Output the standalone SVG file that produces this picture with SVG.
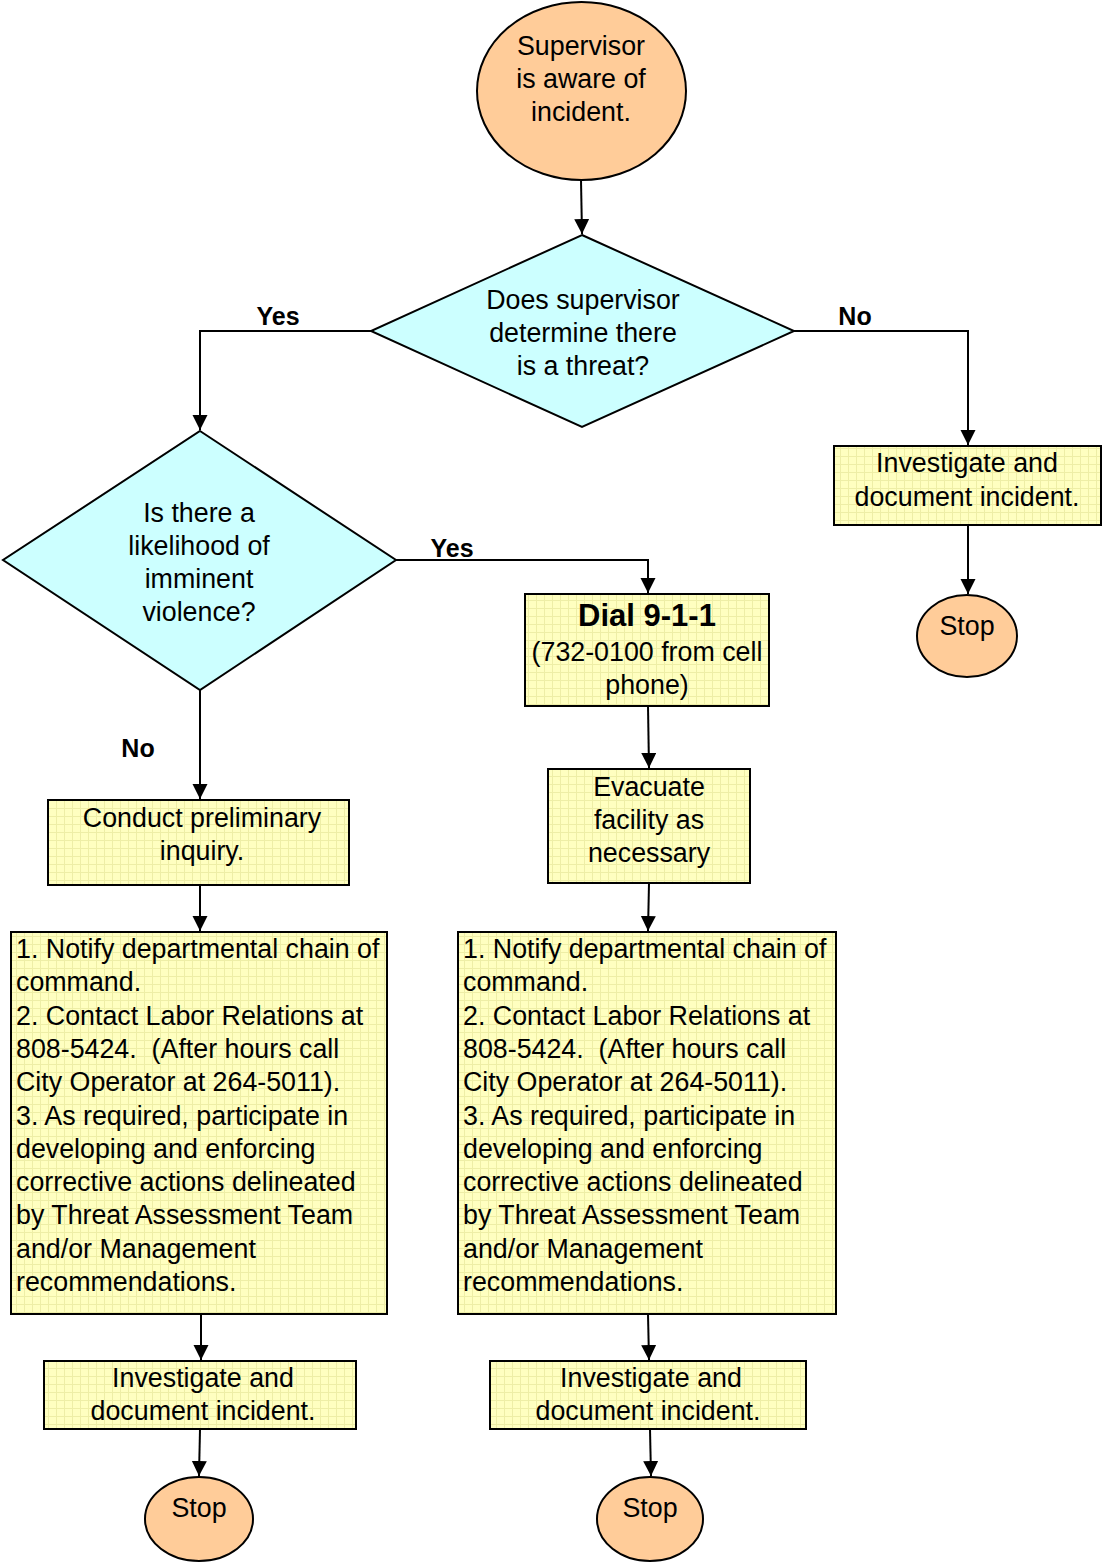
<svg xmlns="http://www.w3.org/2000/svg" width="1102" height="1564" viewBox="0 0 1102 1564">
<style>
text{font-family:"Liberation Sans",Arial,sans-serif;font-size:26.8px;fill:#000;white-space:pre}
.c{text-anchor:middle}
.b{font-weight:bold;font-size:25px}
.term{fill:#FFCC99;stroke:#000;stroke-width:2}
.dec{fill:#CCFFFF;stroke:#000;stroke-width:2}
.box{fill:url(#grid);stroke:#000;stroke-width:2}
.ln{fill:none;stroke:#000;stroke-width:2;marker-end:url(#ah)}
</style>
<defs>
<pattern id="grid" width="8" height="8" patternUnits="userSpaceOnUse">
<rect width="8" height="8" fill="#FFFFC0"/>
<path d="M0 0.5H8M0.5 0V8" stroke="#EEEEA6" stroke-width="1"/>
</pattern>
<marker id="ah" markerUnits="userSpaceOnUse" markerWidth="16" markerHeight="16" refX="15" refY="7.5" orient="auto">
<path d="M0 0L15 7.5L0 15Z" fill="#000"/>
</marker>
</defs>
<rect width="1102" height="1564" fill="#fff"/>
<g id="connectors">
<path class="ln" d="M581 180L582 234"/>
<path class="ln" d="M371 331H200V430"/>
<path class="ln" d="M794 331H968V445"/>
<path class="ln" d="M968 525V594"/>
<path class="ln" d="M396 560H648V593"/>
<path class="ln" d="M648 706L649 768"/>
<path class="ln" d="M649 883L648 931"/>
<path class="ln" d="M648 1314L649 1360"/>
<path class="ln" d="M650 1429L651 1476"/>
<path class="ln" d="M200 690V799"/>
<path class="ln" d="M200 885V931"/>
<path class="ln" d="M201 1314V1360"/>
<path class="ln" d="M200 1429L199 1476"/>
<text class="b" x="278" y="325" text-anchor="middle">Yes</text>
<text class="b" x="855" y="325" text-anchor="middle">No</text>
<text class="b" x="452" y="557" text-anchor="middle">Yes</text>
<text class="b" x="138" y="757" text-anchor="middle">No</text>
</g>
<g id="start">
<ellipse class="term" cx="581.5" cy="91" rx="104.5" ry="89"/>
<text class="c" x="581" y="55">Supervisor</text>
<text class="c" x="581" y="88">is aware of</text>
<text class="c" x="581" y="121">incident.</text>
</g>
<g id="threat">
<polygon class="dec" points="582,235 794,331 582,427 371,331"/>
<text class="c" x="583" y="309">Does supervisor</text>
<text class="c" x="583" y="342">determine there</text>
<text class="c" x="583" y="375">is a threat?</text>
</g>
<g id="investigate-right">
<rect class="box" x="834" y="446" width="267" height="79"/>
<text class="c" x="967" y="472">Investigate and</text>
<text class="c" x="967" y="506">document incident.</text>
</g>
<g id="stop-right">
<ellipse class="term" cx="967" cy="636" rx="50" ry="41"/>
<text class="c" x="967" y="635">Stop</text>
</g>
<g id="violence">
<polygon class="dec" points="200,431 396,560 200,690 3,560"/>
<text class="c" x="199" y="522">Is there a</text>
<text class="c" x="199" y="555">likelihood of</text>
<text class="c" x="199" y="588">imminent</text>
<text class="c" x="199" y="621">violence?</text>
</g>
<g id="dial">
<rect class="box" x="525" y="594" width="244" height="112"/>
<text class="c" x="647" y="626" style="font-weight:bold;font-size:31px">Dial 9-1-1</text>
<text class="c" x="647" y="661">(732-0100 from cell</text>
<text class="c" x="647" y="694">phone)</text>
</g>
<g id="evacuate">
<rect class="box" x="548" y="769" width="202" height="114"/>
<text class="c" x="649" y="796">Evacuate</text>
<text class="c" x="649" y="829">facility as</text>
<text class="c" x="649" y="862">necessary</text>
</g>
<g id="conduct">
<rect class="box" x="48" y="800" width="301" height="85"/>
<text class="c" x="202" y="827">Conduct preliminary</text>
<text class="c" x="202" y="860">inquiry.</text>
</g>
<g id="notify-left">
<rect class="box" x="11" y="932" width="376" height="382"/>
<text x="16" y="958">1. Notify departmental chain of</text>
<text x="16" y="991">command.</text>
<text x="16" y="1025">2. Contact Labor Relations at</text>
<text x="16" y="1058">808-5424.  (After hours call</text>
<text x="16" y="1091">City Operator at 264-5011).</text>
<text x="16" y="1125">3. As required, participate in</text>
<text x="16" y="1158">developing and enforcing</text>
<text x="16" y="1191">corrective actions delineated</text>
<text x="16" y="1224">by Threat Assessment Team</text>
<text x="16" y="1258">and/or Management</text>
<text x="16" y="1291">recommendations.</text>
</g>
<g id="notify-right">
<rect class="box" x="458" y="932" width="378" height="382"/>
<text x="463" y="958">1. Notify departmental chain of</text>
<text x="463" y="991">command.</text>
<text x="463" y="1025">2. Contact Labor Relations at</text>
<text x="463" y="1058">808-5424.  (After hours call</text>
<text x="463" y="1091">City Operator at 264-5011).</text>
<text x="463" y="1125">3. As required, participate in</text>
<text x="463" y="1158">developing and enforcing</text>
<text x="463" y="1191">corrective actions delineated</text>
<text x="463" y="1224">by Threat Assessment Team</text>
<text x="463" y="1258">and/or Management</text>
<text x="463" y="1291">recommendations.</text>
</g>
<g id="investigate-left">
<rect class="box" x="44" y="1361" width="312" height="68"/>
<text class="c" x="203" y="1387">Investigate and</text>
<text class="c" x="203" y="1420">document incident.</text>
</g>
<g id="investigate-mid">
<rect class="box" x="490" y="1361" width="316" height="68"/>
<text class="c" x="651" y="1387">Investigate and</text>
<text class="c" x="648" y="1420">document incident.</text>
</g>
<g id="stop-left">
<ellipse class="term" cx="199" cy="1519" rx="54" ry="42"/>
<text class="c" x="199" y="1517">Stop</text>
</g>
<g id="stop-mid">
<ellipse class="term" cx="650" cy="1519" rx="53" ry="42"/>
<text class="c" x="650" y="1517">Stop</text>
</g>
</svg>
